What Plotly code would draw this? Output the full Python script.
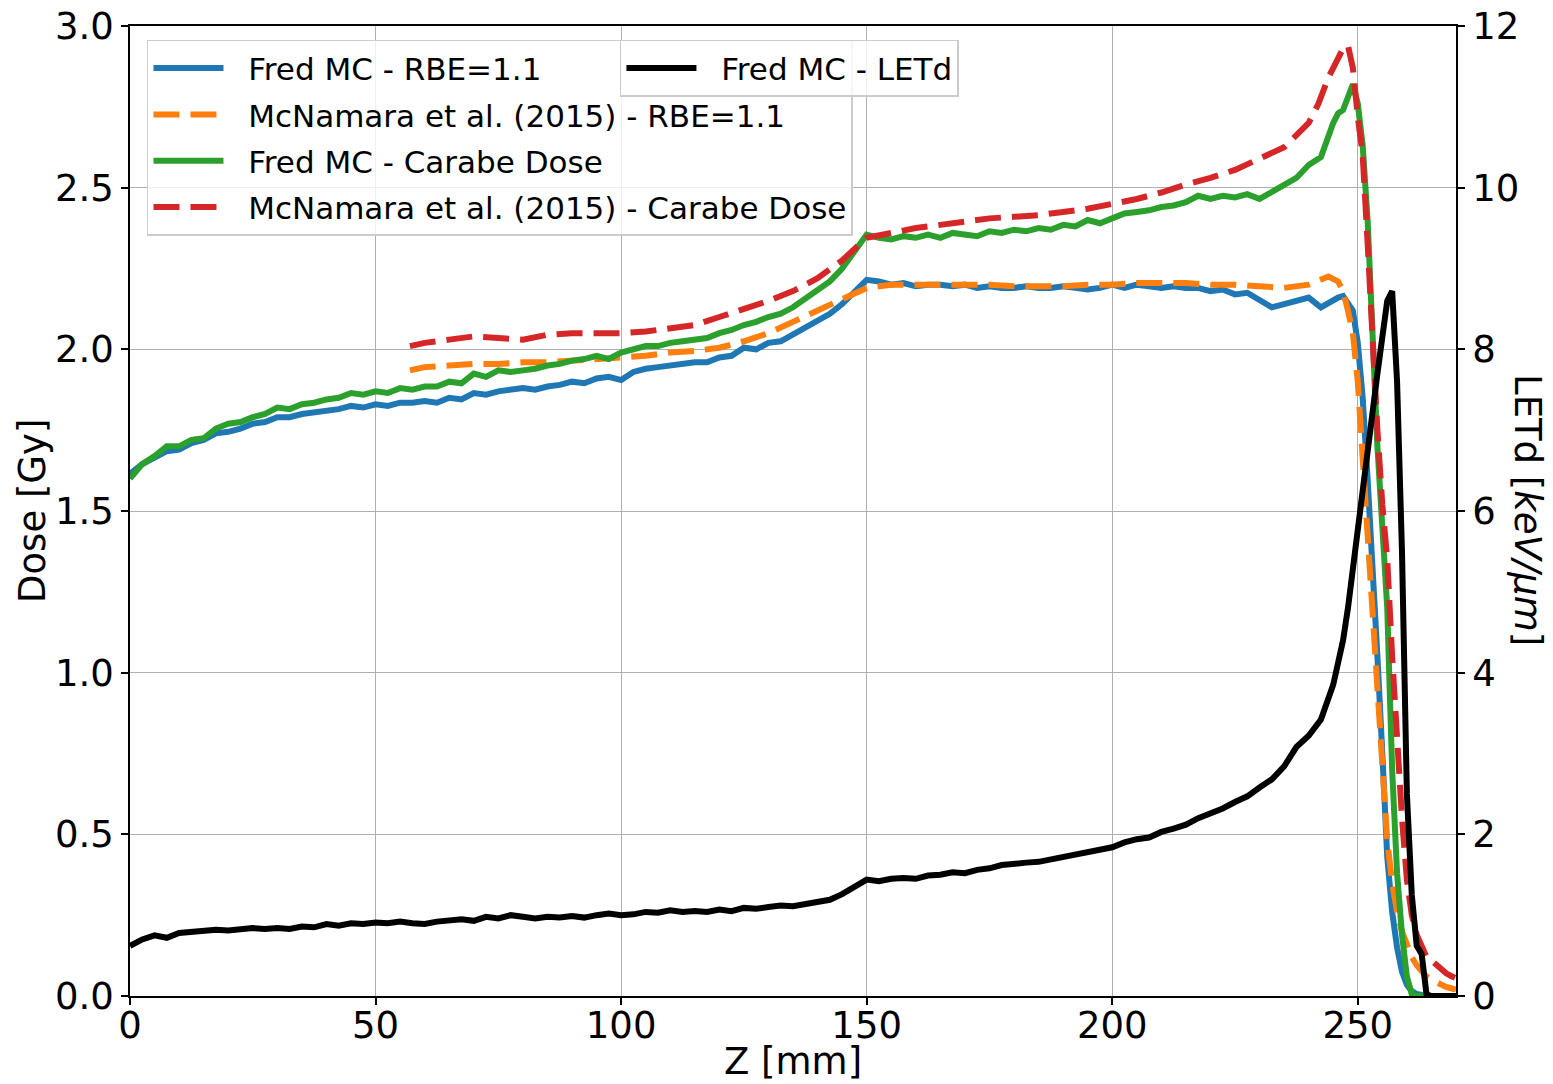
import plotly.graph_objects as go

# ---------------- data ----------------
z_fred = [i * 2.5 for i in range(99)] + list(range(246, 271))

dose_fred_rbe = [
    1.615, 1.645, 1.665, 1.685, 1.69, 1.71, 1.72, 1.74, 1.745, 1.755,
    1.77, 1.775, 1.79, 1.79, 1.80, 1.805, 1.81, 1.815, 1.825, 1.82,
    1.83, 1.825, 1.835, 1.835, 1.84, 1.835, 1.85, 1.845, 1.865, 1.86,
    1.87, 1.875, 1.88, 1.875, 1.885, 1.89, 1.90, 1.895, 1.91, 1.915,
    1.905, 1.93, 1.94, 1.945, 1.95, 1.955, 1.96, 1.96, 1.975, 1.98,
    2.005, 2.00, 2.02, 2.025, 2.045, 2.065, 2.09, 2.11, 2.14, 2.175,
    2.215, 2.21, 2.20, 2.205, 2.195, 2.20, 2.20, 2.195, 2.20, 2.19,
    2.195, 2.19, 2.19, 2.195, 2.19, 2.19, 2.195, 2.19, 2.185, 2.19,
    2.20, 2.19, 2.20, 2.195, 2.19, 2.195, 2.19, 2.19, 2.18, 2.185,
    2.17, 2.175, 2.155, 2.13, 2.14, 2.15, 2.16, 2.13, 2.155,
    2.16, 2.165, 2.14, 2.12, 2.02, 1.85, 1.60, 1.35, 1.05, 0.75,
    0.43, 0.26, 0.15, 0.075, 0.035, 0.015, 0.006, 0.003, 0.0, 0.0,
    0.0, 0.0, 0.0, 0.0, 0.0,
]

dose_fred_carabe = [
    1.60, 1.645, 1.67, 1.70, 1.70, 1.72, 1.725, 1.755, 1.77, 1.775,
    1.79, 1.80, 1.82, 1.815, 1.83, 1.835, 1.845, 1.85, 1.865, 1.86,
    1.87, 1.865, 1.88, 1.875, 1.885, 1.885, 1.90, 1.895, 1.925, 1.915,
    1.935, 1.93, 1.935, 1.94, 1.95, 1.955, 1.965, 1.97, 1.98, 1.97,
    1.99, 2.00, 2.01, 2.01, 2.02, 2.025, 2.03, 2.035, 2.05, 2.06,
    2.075, 2.085, 2.10, 2.11, 2.13, 2.155, 2.185, 2.21, 2.25, 2.30,
    2.355, 2.345, 2.34, 2.35, 2.345, 2.355, 2.345, 2.36, 2.355, 2.35,
    2.365, 2.36, 2.37, 2.365, 2.375, 2.37, 2.385, 2.38, 2.40, 2.39,
    2.405, 2.42, 2.425, 2.43, 2.44, 2.445, 2.455, 2.475, 2.465, 2.475,
    2.47, 2.48, 2.465, 2.485, 2.505, 2.53, 2.57, 2.595, 2.70,
    2.73, 2.74, 2.775, 2.82, 2.76, 2.63, 2.40, 2.02, 1.70, 1.45,
    1.20, 0.70, 0.38, 0.19, 0.06, 0.005, 0.0, 0.0, 0.0, 0.0,
    0.0, 0.0, 0.0, 0.0, 0.0,
]

letd_fred = [
    0.62, 0.70, 0.75, 0.72, 0.78, 0.79, 0.80, 0.82, 0.81, 0.83,
    0.84, 0.83, 0.84, 0.83, 0.86, 0.85, 0.89, 0.87, 0.90, 0.89,
    0.91, 0.90, 0.92, 0.90, 0.89, 0.92, 0.93, 0.95, 0.93, 0.98,
    0.96, 1.00, 0.98, 0.96, 0.98, 0.97, 0.99, 0.97, 1.00, 1.02,
    1.00, 1.01, 1.04, 1.03, 1.06, 1.04, 1.05, 1.04, 1.07, 1.05,
    1.09, 1.08, 1.10, 1.12, 1.11, 1.14, 1.17, 1.19, 1.26, 1.35,
    1.44, 1.42, 1.45, 1.46, 1.45, 1.49, 1.50, 1.53, 1.52, 1.56,
    1.58, 1.62, 1.64, 1.65, 1.66, 1.69, 1.72, 1.76, 1.78, 1.82,
    1.84, 1.90, 1.94, 1.96, 2.03, 2.07, 2.12, 2.20, 2.26, 2.32,
    2.40, 2.47, 2.58, 2.68, 2.84, 3.08, 3.22, 3.42, 3.85,
    4.10, 4.40, 4.80, 5.30, 5.85, 6.30, 6.80, 7.30, 7.70, 8.15,
    8.60, 8.72, 7.60, 5.50, 2.50, 1.25, 0.62, 0.52, 0.02, 0.0,
    0.0, 0.0, 0.0, 0.0, 0.0,
]

z_mcn = [57] + list(range(60, 241, 5)) + [242, 244] + list(range(246, 271))

dose_mcn_rbe = [
    1.935, 1.945, 1.95, 1.955, 1.955, 1.96, 1.96, 1.965, 1.97, 1.975,
    1.98, 1.99, 1.995, 2.005, 2.025, 2.05, 2.085, 2.12, 2.16, 2.19,
    2.20, 2.20, 2.20, 2.20, 2.20, 2.195, 2.195, 2.195, 2.20, 2.20,
    2.205, 2.205, 2.205, 2.20, 2.20, 2.195, 2.19, 2.20,
    2.215, 2.225,
    2.21, 2.18, 2.12, 2.05, 1.90, 1.66, 1.40, 1.20, 0.95, 0.70,
    0.48, 0.35, 0.26, 0.20, 0.155, 0.12, 0.095, 0.075, 0.06, 0.05,
    0.042, 0.035, 0.028, 0.024, 0.02,
]

dose_mcn_carabe = [
    2.01, 2.02, 2.03, 2.04, 2.035, 2.03, 2.045, 2.05, 2.05, 2.05,
    2.055, 2.065, 2.075, 2.10, 2.125, 2.15, 2.18, 2.22, 2.275, 2.345,
    2.36, 2.375, 2.385, 2.395, 2.405, 2.41, 2.415, 2.425, 2.435, 2.45,
    2.465, 2.485, 2.51, 2.53, 2.555, 2.59, 2.625, 2.70,
    2.76, 2.84,
    2.90, 2.93, 2.94, 2.87, 2.72, 2.60, 2.33, 2.00, 1.75, 1.52,
    1.35, 1.05, 0.78, 0.55, 0.36, 0.25, 0.19, 0.15, 0.12, 0.11,
    0.095, 0.08, 0.07, 0.062, 0.055,
]

x_ticks = [0, 50, 100, 150, 200, 250]
y_ticks = [0.0, 0.5, 1.0, 1.5, 2.0, 2.5, 3.0]
y2_ticks = [0, 2, 4, 6, 8, 10, 12]

# ---------------- figure ----------------
FONT = "DejaVu Sans"
LW = 6
DASH = "26px,11px"
PAD = "\u00a0\u00a0"  # visual gap between legend line sample and its label

fig = go.Figure()
fig.add_trace(go.Scatter(x=z_fred, y=dose_fred_rbe, mode="lines",
                         name=PAD + "Fred MC - RBE=1.1", legendgroup="a",
                         line=dict(color="#1f77b4", width=LW)))
fig.add_trace(go.Scatter(x=z_mcn, y=dose_mcn_rbe, mode="lines",
                         name=PAD + "McNamara et al. (2015) - RBE=1.1", legendgroup="b",
                         line=dict(color="#ff7f0e", width=LW, dash=DASH)))
fig.add_trace(go.Scatter(x=z_fred, y=dose_fred_carabe, mode="lines",
                         name=PAD + "Fred MC - Carabe Dose", legendgroup="c",
                         line=dict(color="#2ca02c", width=LW)))
fig.add_trace(go.Scatter(x=z_mcn, y=dose_mcn_carabe, mode="lines",
                         name=PAD + "McNamara et al. (2015) - Carabe Dose", legendgroup="d",
                         line=dict(color="#d62728", width=LW, dash=DASH)))
fig.add_trace(go.Scatter(x=z_fred, y=letd_fred, mode="lines", yaxis="y2",
                         name=PAD + "Fred MC - LETd", legend="legend2",
                         line=dict(color="black", width=LW)))

axis_common = dict(
    ticks="outside", ticklen=7, tickwidth=1.5, tickcolor="black",
    showline=True, linecolor="black", linewidth=1.5,
    tickfont=dict(family=FONT, size=37, color="black"),
    zeroline=False,
)

legend_common = dict(
    xanchor="left", yanchor="top",
    font=dict(family=FONT, size=31, color="black"),
    bgcolor="rgba(255,255,255,0.8)", bordercolor="#cccccc", borderwidth=1.5,
    itemwidth=70, tracegroupgap=3, traceorder="grouped",
)

title_font = dict(family=FONT, size=37, color="black")

fig.update_layout(
    width=1553, height=1084,
    margin=dict(l=130, r=97, t=26, b=88, autoexpand=False),
    paper_bgcolor="white", plot_bgcolor="white",
    font=dict(family=FONT, color="black"),
    showlegend=True,
    xaxis=dict(range=[0, 270], tickvals=x_ticks, mirror=True,
               showgrid=True, gridcolor="#b0b0b0", gridwidth=1,
               ticklabelstandoff=-11,
               **axis_common),
    yaxis=dict(range=[0, 3], tickvals=y_ticks, tickformat=".1f",
               showgrid=True, gridcolor="#b0b0b0", gridwidth=1,
               **axis_common),
    yaxis2=dict(range=[0, 12], tickvals=y2_ticks, overlaying="y", side="right",
                showgrid=False, **axis_common),
    legend=dict(x=0.0128, y=0.9856, **legend_common),
    legend2=dict(x=0.3695, y=0.9856, **legend_common),
    annotations=[
        dict(text="Z [mm]", showarrow=False, xref="paper", yref="paper",
             x=0.5, y=-0.068, xanchor="center", yanchor="middle", font=title_font),
        dict(text="Dose [Gy]", textangle=-90, showarrow=False,
             xref="paper", yref="paper", x=-0.0739, y=0.5,
             xanchor="center", yanchor="middle", font=title_font),
        dict(text="LETd [<i>keV/μm</i>]", textangle=90, showarrow=False,
             xref="paper", yref="paper", x=1.0543, y=0.501,
             xanchor="center", yanchor="middle", font=title_font),
    ],
)

fig.write_html("out.html")
